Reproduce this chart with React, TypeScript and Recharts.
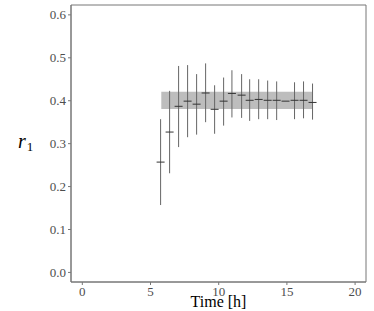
import React from 'react';
import { ComposedChart, Scatter, ErrorBar, XAxis, YAxis, ReferenceArea } from 'recharts';

const times = [5.74, 6.4, 7.06, 7.72, 8.38, 9.04, 9.7, 10.36, 10.97, 11.68, 12.27, 12.93, 13.59, 14.25, 14.9, 15.56, 16.22, 16.88];
const ratios = [0.257, 0.327, 0.387, 0.399, 0.392, 0.418, 0.38, 0.399, 0.417, 0.413, 0.401, 0.403, 0.401, 0.401, 0.399, 0.401, 0.401, 0.396];
const lowers = [0.157, 0.231, 0.292, 0.315, 0.321, 0.35, 0.323, 0.342, 0.361, 0.36, 0.353, 0.357, 0.357, 0.355, 0.399, 0.357, 0.359, 0.356];
const uppers = [0.357, 0.423, 0.481, 0.483, 0.462, 0.487, 0.436, 0.454, 0.471, 0.462, 0.45, 0.45, 0.447, 0.445, 0.399, 0.443, 0.445, 0.44];

const bandX = [5.79, 16.87];
const bandY = [0.381, 0.421];

const xTicks = [0, 5, 10, 15, 20];
const yTicks = [0, 0.1, 0.2, 0.3, 0.4, 0.5, 0.6];
const xDomain = [-0.83, 20.8];
const yDomain = [-0.0223, 0.623];

const data = times.map((t, i) => ({
  t,
  r: ratios[i],
  err: [ratios[i] - lowers[i], uppers[i] - ratios[i]],
}));

const FONT = '"Liberation Serif", "DejaVu Serif", serif';
const AXIS = '#777777';
const TICK_FILL = '#4d4d4d';

const Dash = (props: any) => {
  const { cx, cy } = props;
  if (cx == null || cy == null) return null;
  return <line x1={cx - 4} x2={cx + 4} y1={cy} y2={cy} stroke="#333333" strokeWidth={1} />;
};

const XTick = (props: any) => {
  const { x, y, payload } = props;
  return (
    <text x={x} y={y + 9} textAnchor="middle" fontFamily={FONT} fontSize={13} fill={TICK_FILL}>
      {payload.value}
    </text>
  );
};

const YTick = (props: any) => {
  const { x, y, payload } = props;
  return (
    <text x={x} y={y + 4.5} textAnchor="end" fontFamily={FONT} fontSize={13} fill={TICK_FILL}>
      {Number(payload.value).toFixed(1)}
    </text>
  );
};

const XLabel = (props: any) => {
  const vb = props.viewBox || {};
  return (
    <text x={vb.x + vb.width / 2} y={vb.y + 25} textAnchor="middle" fontFamily={FONT} fontSize={16} fill="#000">
      Time [h]
    </text>
  );
};

const YLabel = (props: any) => {
  const vb = props.viewBox || {};
  return (
    <text x={18} y={vb.y + vb.height / 2 + 4} textAnchor="start" fontFamily={FONT} fontSize={20} fill="#000">
      <tspan fontStyle="italic">r</tspan>
      <tspan fontSize={13} dy={3} dx={1}>1</tspan>
    </text>
  );
};

export default function App() {
  return (
    <div style={{ position: 'absolute', left: 0, top: 0 }}>
      <ComposedChart width={374} height={311} data={data} margin={{ top: 5, right: 8, bottom: 0, left: 0 }}>
        <XAxis
          xAxisId={0}
          dataKey="t"
          type="number"
          domain={xDomain}
          ticks={xTicks}
          allowDataOverflow
          height={29}
          tickSize={3}
          stroke={AXIS}
          tick={<XTick />}
          label={<XLabel />}
        />
        <YAxis
          yAxisId={0}
          type="number"
          domain={yDomain}
          ticks={yTicks}
          allowDataOverflow
          width={71}
          tickSize={3}
          stroke={AXIS}
          tick={<YTick />}
          label={<YLabel />}
        />
        <ReferenceArea
          xAxisId={0}
          yAxisId={0}
          x1={bandX[0]}
          x2={bandX[1]}
          y1={bandY[0]}
          y2={bandY[1]}
          fill="#bdbdbd"
          fillOpacity={1}
          stroke="none"
        />
        <ReferenceArea
          xAxisId={0}
          yAxisId={0}
          x1={xDomain[0]}
          x2={xDomain[1]}
          y1={yDomain[0]}
          y2={yDomain[1]}
          fill="none"
          stroke={AXIS}
          strokeWidth={1}
          ifOverflow="visible"
        />
        <Scatter xAxisId={0} yAxisId={0} dataKey="r" shape={<Dash />} isAnimationActive={false}>
          <ErrorBar dataKey="err" direction="y" width={0} stroke="#666666" strokeWidth={1} />
        </Scatter>
      </ComposedChart>
    </div>
  );
}
